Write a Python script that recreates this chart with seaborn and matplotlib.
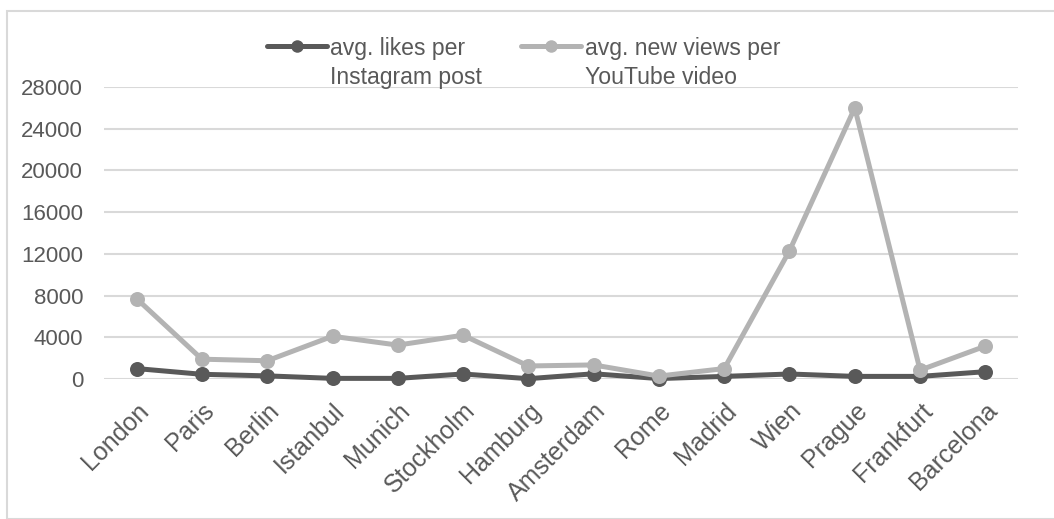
import matplotlib
matplotlib.use("Agg")
import matplotlib.pyplot as plt
import seaborn as sns
import pandas as pd
from matplotlib.patches import Rectangle

cities = ["London", "Paris", "Berlin", "Istanbul", "Munich", "Stockholm", "Hamburg",
          "Amsterdam", "Rome", "Madrid", "Wien", "Prague", "Frankfurt", "Barcelona"]
insta_likes = [1000, 450, 300, 60, 60, 480, 30, 500, 40, 250, 480, 250, 250, 700]
yt_views = [7700, 1900, 1750, 4100, 3250, 4200, 1250, 1350, 280, 1000, 12300, 26000, 850, 3150]
series_names = ["avg. likes per\nInstagram post", "avg. new views per\nYouTube video"]
y_ticks = [0, 4000, 8000, 12000, 16000, 20000, 24000, 28000]

df = pd.DataFrame({
    "city": cities * 2,
    "value": insta_likes + yt_views,
    "series": [series_names[0]] * len(cities) + [series_names[1]] * len(cities),
})

sns.set_theme(style="white")
plt.rcParams["font.family"] = ["Liberation Sans", "DejaVu Sans"]

W, H = 1054, 519
fig = plt.figure(figsize=(W / 100, H / 100), dpi=100)
fig.patches.append(Rectangle((7 / W, 0), 1.2, (H - 11) / H, transform=fig.transFigure,
                             fill=False, edgecolor="#d9d9d9", linewidth=1.5, zorder=0))
ax = fig.add_axes([104 / W, 1 - 379 / H, (1018 - 104) / W, (379 - 87) / H])

palette = {series_names[0]: "#595959", series_names[1]: "#b3b3b3"}
sns.lineplot(data=df, x="city", y="value", hue="series", palette=palette,
             marker="o", markersize=10.8, markeredgewidth=0, linewidth=3.6,
             sort=False, ax=ax, clip_on=False, legend=True)

ax.set_xlim(-0.5, len(cities) - 0.5)
ax.set_ylim(0, 28000)
ax.set_yticks(y_ticks)
ax.set_yticklabels([str(v) for v in y_ticks])
ax.yaxis.grid(True, color="#d9d9d9", linewidth=1.5)
ax.set_axisbelow(True)
for s in ax.spines.values():
    s.set_visible(False)
ax.set_xlabel("")
ax.set_ylabel("")
ax.tick_params(axis="y", length=0, pad=15, labelsize=16, labelcolor="#595959")
ax.tick_params(axis="x", length=0, pad=14, labelsize=18, labelcolor="#595959")
plt.setp(ax.get_xticklabels(), rotation=45, ha="right", rotation_mode="anchor")

handles, labels = ax.get_legend_handles_labels()
for h in handles:
    h.set_markersize(9)
leg = ax.legend(handles, labels, loc="upper left", bbox_to_anchor=(267 / W, 1 - 37 / H),
                bbox_transform=fig.transFigure, ncol=2, frameon=False, fontsize=16.6,
                handlelength=2.6, handleheight=1.0, handletextpad=0.15, columnspacing=1.7,
                borderpad=0, borderaxespad=0)
for t in leg.get_texts():
    t.set_color("#595959")
    t.set_linespacing(1.32)
# align legend handles with the first line of each label
try:
    for col in leg._legend_handle_box.get_children():
        for row in col.get_children():
            row.align = "top"
except Exception:
    pass

fig.savefig("out.png", dpi=100, facecolor="white")
